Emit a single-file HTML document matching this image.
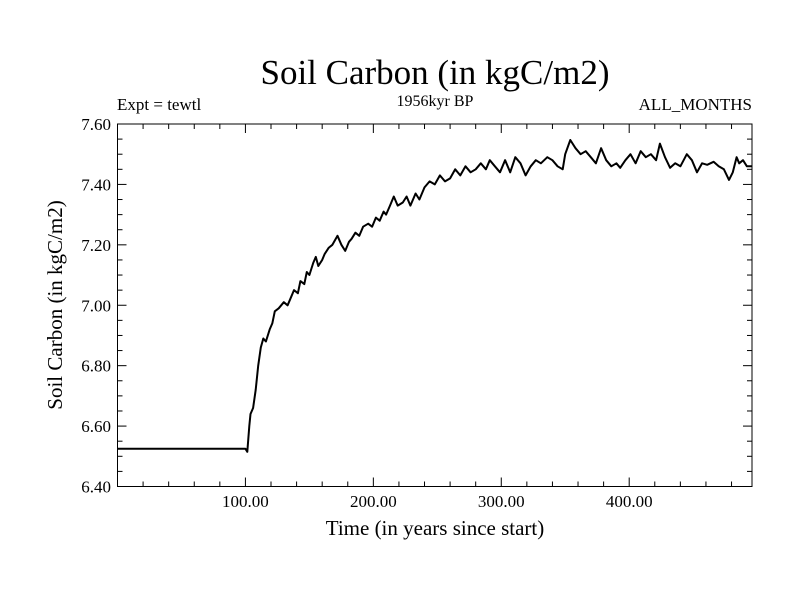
<!DOCTYPE html>
<html><head><meta charset="utf-8"><style>
body{margin:0;background:#fff}
svg text{font-family:"Liberation Serif",serif;fill:#000}
</style></head><body>
<svg width="800" height="600" xmlns="http://www.w3.org/2000/svg">
<text x="435" y="84" font-size="35" text-anchor="middle">Soil Carbon (in kgC/m2)</text>
<text x="117" y="110" font-size="17">Expt = tewtl</text>
<text x="435" y="106" font-size="16" text-anchor="middle">1956kyr BP</text>
<text x="752" y="110" font-size="17" text-anchor="end">ALL_MONTHS</text>
<text x="435" y="535" font-size="21" text-anchor="middle">Time (in years since start)</text>
<text transform="translate(62,305) rotate(-90)" font-size="21" text-anchor="middle">Soil Carbon (in kgC/m2)</text>
<g id="axes"></g>
<path id="series" fill="none" stroke="#000" stroke-width="2" stroke-linejoin="round"/>
<rect x="117.5" y="124" width="634.5" height="362.5" fill="none" stroke="#000" stroke-width="1"/>
</svg>
<script>
const years=[0,100,101.5,103,104,106,108,110,112,114,116,119,121,123,126,130,133,135,138,141,143,146,148,150,153,155,157,160,162,165,168,172,175,178,181,183,186,189,192,196,199,202,205,208,210,213,216,219,223,226,229,233,236,240,244,248,252,256,260,264,268,272,276,280,284,288,291,295,299,303,307,311,315,319,323,327,331,336,340,344,348,350,354,358,362,366,370,374,378,382,386,390,393,397,401,405,409,413,417,421,424,428,432,436,440,445,449,453,457,461,466,470,474,478,481,484,486,489,492,496];
const values=[6.525,6.525,6.515,6.6,6.64,6.66,6.72,6.8,6.86,6.89,6.88,6.92,6.94,6.98,6.99,7.01,7.0,7.02,7.05,7.04,7.08,7.07,7.11,7.1,7.14,7.16,7.13,7.15,7.17,7.19,7.2,7.23,7.2,7.18,7.21,7.22,7.24,7.23,7.26,7.27,7.26,7.29,7.28,7.31,7.30,7.33,7.36,7.33,7.34,7.36,7.33,7.37,7.35,7.39,7.41,7.40,7.43,7.41,7.42,7.45,7.43,7.46,7.44,7.45,7.47,7.45,7.48,7.46,7.44,7.48,7.44,7.49,7.47,7.43,7.46,7.48,7.47,7.49,7.48,7.46,7.45,7.50,7.547,7.52,7.50,7.51,7.49,7.47,7.52,7.48,7.46,7.47,7.455,7.48,7.50,7.47,7.51,7.49,7.50,7.48,7.535,7.49,7.455,7.47,7.46,7.50,7.48,7.44,7.47,7.465,7.475,7.46,7.45,7.415,7.44,7.49,7.47,7.48,7.46,7.46];
const xTickLabels=["100.00","200.00","300.00","400.00"];
const xTickVals=[100,200,300,400];
const yTickLabels=["6.40","6.60","6.80","7.00","7.20","7.40","7.60"];
const yTickVals=[6.4,6.6,6.8,7.0,7.2,7.4,7.6];
const X0=117.5,X1=752,Y0=486.5,Y1=124,xmin=0,xmax=496,ymin=6.4,ymax=7.6;
function sx(v){return X0+(v-xmin)/(xmax-xmin)*(X1-X0);}
function sy(v){return Y0-(v-ymin)/(ymax-ymin)*(Y0-Y1);}
let d="";
for(let i=0;i<years.length;i++){d+=(i?"L":"M")+sx(years[i]).toFixed(1)+","+sy(values[i]).toFixed(1);}
document.getElementById('series').setAttribute('d',d);
const g=document.getElementById('axes');
const NS="http://www.w3.org/2000/svg";
function line(x1,y1,x2,y2,name){const l=document.createElementNS(NS,'line');
l.setAttribute('x1',x1);l.setAttribute('y1',y1);l.setAttribute('x2',x2);l.setAttribute('y2',y2);l.setAttribute('stroke','#000');l.setAttribute('stroke-width','1');


g.appendChild(l);}
function text(x,y,s,anchor,name){const t=document.createElementNS(NS,'text');
t.setAttribute('x',x);t.setAttribute('y',y);t.setAttribute('font-size','17');t.setAttribute('text-anchor',anchor);t.textContent=s;


g.appendChild(t);}
for(let v=20;v<xmax;v+=20){const x=sx(v);const major=v%100===0;const L=major?9:5;
line(x,Y0,x,Y0-L,'x-tick');line(x,Y1,x,Y1+L,'x-tick-top');}
for(let i=1;i<24;i++){const v=ymin+i*0.05;const y=sy(v);const major=i%4===0;const L=major?9:5;
line(X0,y,X0+L,y,'y-tick');line(X1,y,X1-L,y,'y-tick-right');}
xTickVals.forEach((v,i)=>text(sx(v),507,xTickLabels[i],'middle','x-tick-label'));
yTickVals.forEach((v,i)=>text(111,sy(v)+6,yTickLabels[i],'end','y-tick-label'));
</script>
</body></html>
